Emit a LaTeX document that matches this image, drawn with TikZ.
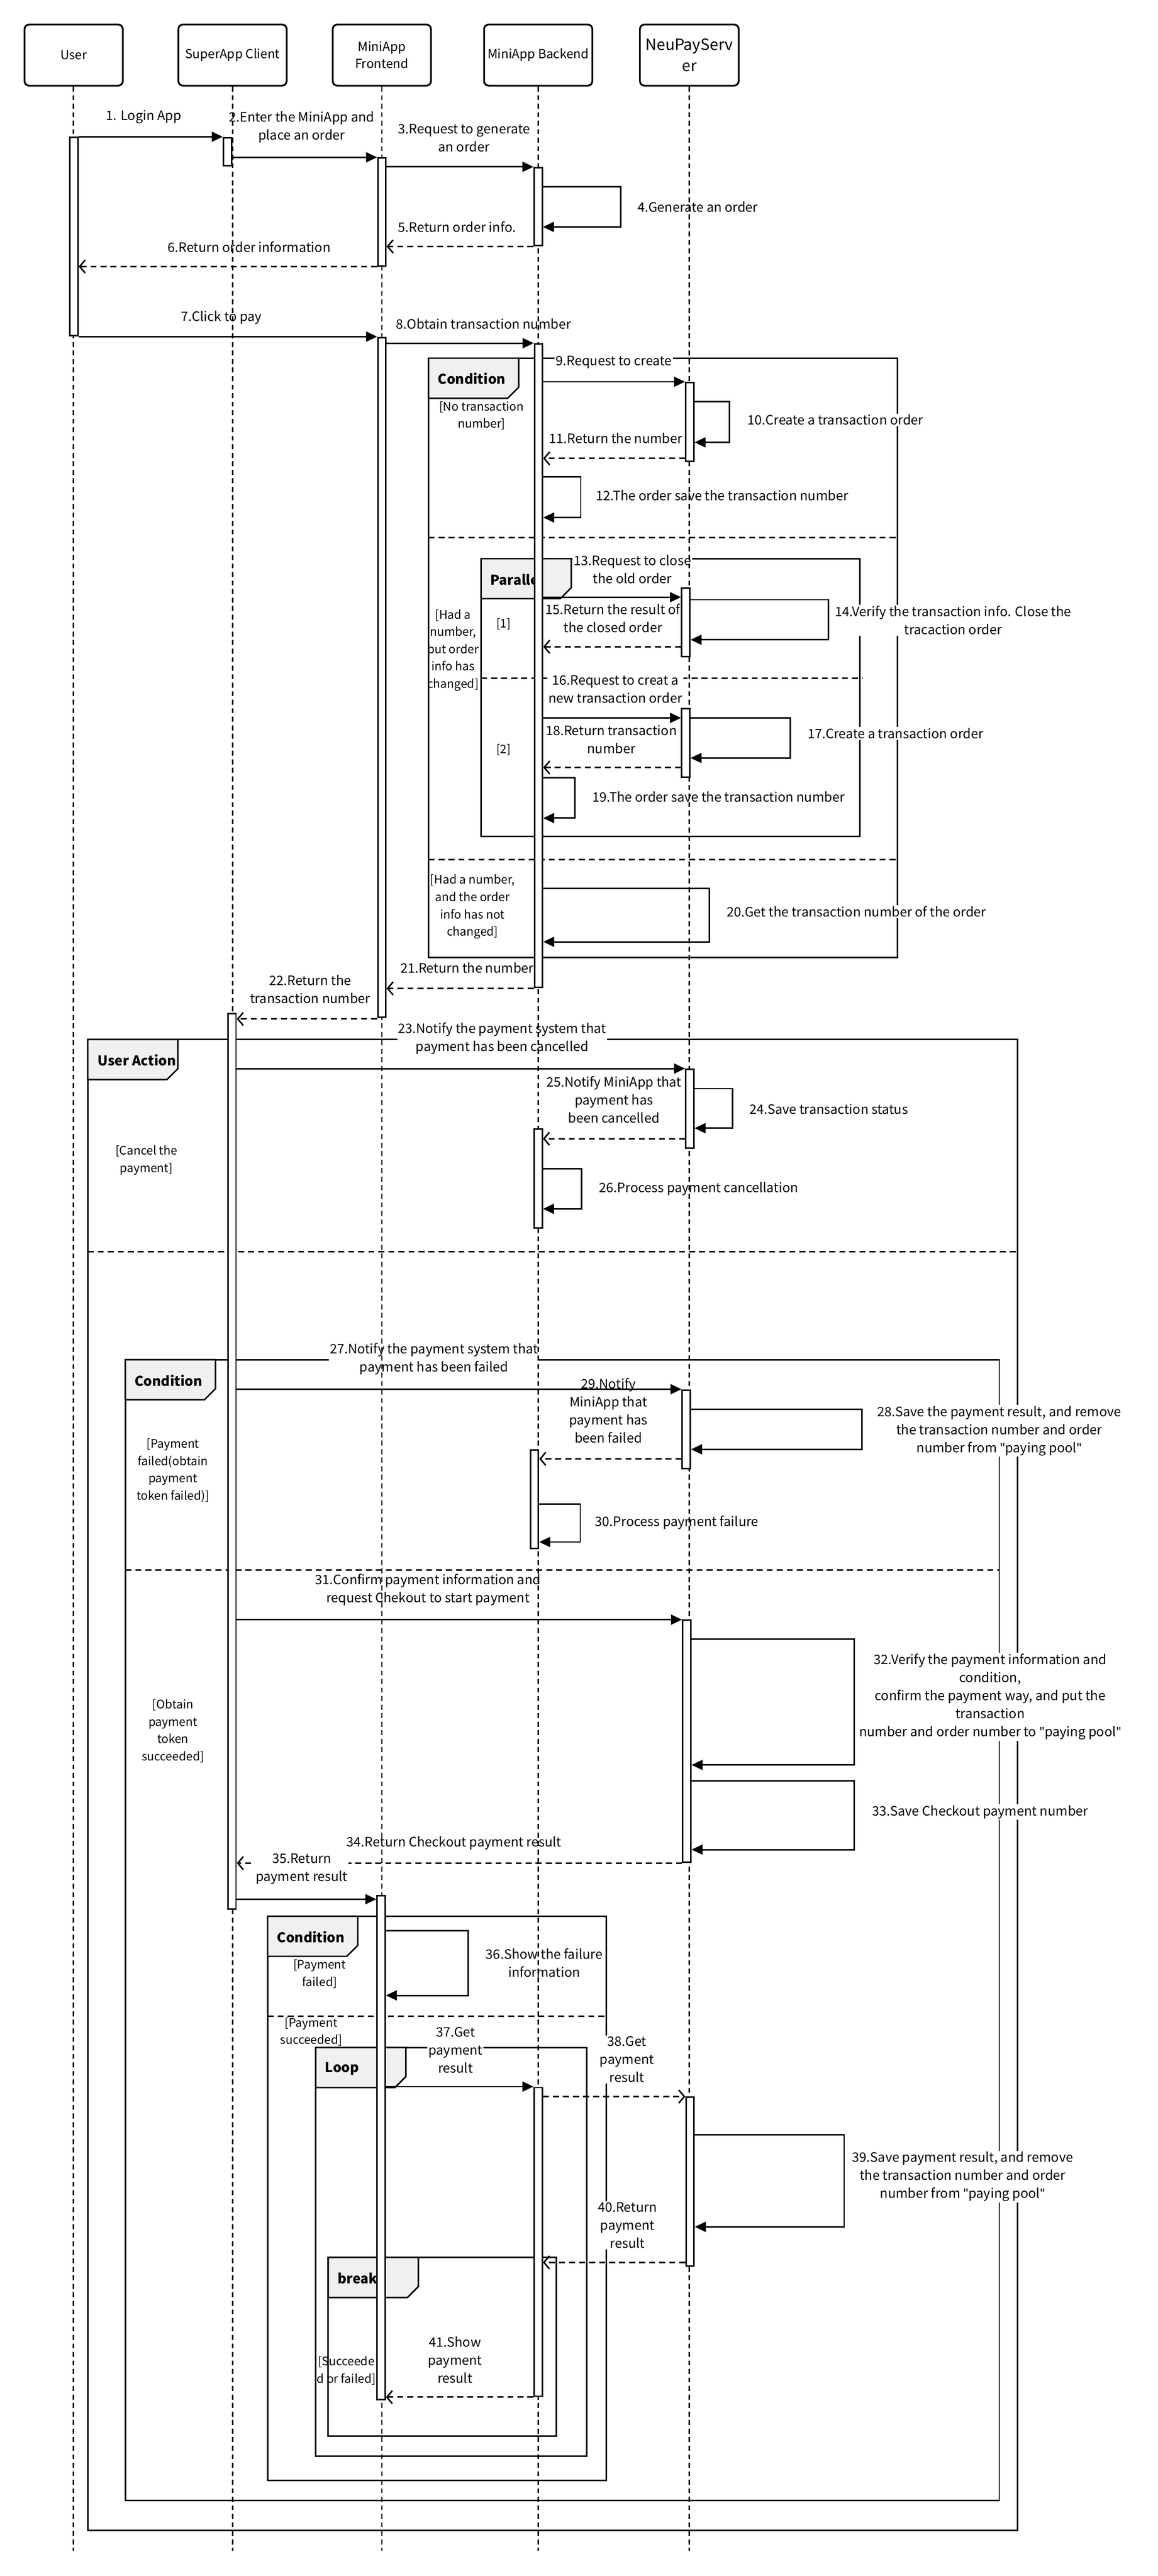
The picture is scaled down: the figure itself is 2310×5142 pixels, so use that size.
\documentclass[tikz,border=0pt]{standalone}
\usepackage{fontspec}
\setmainfont{Noto Sans CJK SC}
\newfontfamily\quotefont{Noto Sans}
\usetikzlibrary{arrows.meta}
\definecolor{tabgray}{HTML}{EFF0F2}
\newcommand{\qt}{{\quotefont"}}
\begin{document}
\begin{tikzpicture}[x=1pt,y=-1pt,line width=3pt,
  head/.style={draw,line width=3.5pt,rounded corners=9pt,minimum height=122pt,align=center,font=\fontsize{25}{34}\selectfont},
  life/.style={dash pattern=on 10pt off 7pt},
  bar/.style={draw,fill=white,minimum width=16pt,inner sep=0pt},
  tab/.style={draw,fill=tabgray},
  title/.style={anchor=west,font=\bfseries\fontsize{27}{34}\selectfont},
  guard/.style={align=center,font=\fontsize{23.5}{34.5}\selectfont},
  sep/.style={dash pattern=on 12pt off 8pt},
  msg/.style={align=center,fill=white,inner sep=2pt,font=\fontsize{26}{36}\selectfont},
  note/.style={msg,anchor=west},
  call/.style={-{Triangle[length=22pt,width=20pt]}},
  reply/.style={dash pattern=on 12pt off 8pt,-{Straight Barb[length=11pt,width=26pt]}}]
\useasboundingbox (0,0) rectangle (2310,5142);

\node [head,minimum width=196pt] (user) at (147,110) {User};
\node [head,minimum width=216pt] (client) at (464,110) {SuperApp Client};
\node [head,minimum width=196pt] (front) at (762,110) {MiniApp\\Frontend};
\node [head,minimum width=216pt] (back) at (1074,110) {MiniApp Backend};
\node [head,minimum width=197pt,font=\fontsize{31}{42}\selectfont] (pay) at (1375.5,110) {NeuPayServ\\er};

\draw (855,715) rectangle (1791,1911);
\draw [tab] (855,715) -- ++(180,0) -- ++(0,58) -- ++(-22,22) -- ++(-158,0) -- cycle;
\node [title] (alt1) at (869,756) {Condition};
\draw [sep] (855,1073) -- (1791,1073);
\draw [sep] (855,1716) -- (1791,1716);
\draw (960,1115) rectangle (1716,1670);
\draw [tab] (960,1115) -- ++(180,0) -- ++(0,58) -- ++(-22,22) -- ++(-158,0) -- cycle;
\node [title] (par) at (974,1157) {Paralle};
\draw [sep] (960,1354) -- (1722,1354);
\draw (175,2075) rectangle (2031,5051);
\draw [tab] (175,2075) -- ++(180,0) -- ++(0,58) -- ++(-22,22) -- ++(-158,0) -- cycle;
\node [title] (act) at (190,2116) {User Action};
\draw [sep] (175,2498) -- (2031,2498);
\draw (250,2714) rectangle (1994,4991);
\draw [tab] (250,2714) -- ++(180,0) -- ++(0,58) -- ++(-22,22) -- ++(-158,0) -- cycle;
\node [title] (alt2) at (264,2756) {Condition};
\draw [sep] (250,3134) -- (1994,3134);
\draw (534,3825) rectangle (1210,4951);
\draw [tab] (534,3825) -- ++(180,0) -- ++(0,58) -- ++(-22,22) -- ++(-158,0) -- cycle;
\node [title] (alt3) at (548,3866) {Condition};
\draw [sep] (534,4025) -- (1210,4025);
\draw (630,4087) rectangle (1171,4903);
\draw [tab] (630,4087) -- ++(180,0) -- ++(0,58) -- ++(-22,22) -- ++(-158,0) -- cycle;
\node [title] (loop) at (644,4129) {Loop};
\draw (655,4506) rectangle (1110,4863);
\draw [tab] (655,4506) -- ++(180,0) -- ++(0,58) -- ++(-22,22) -- ++(-158,0) -- cycle;
\node [title] (brk) at (669,4548) {break};

\node [guard] (g1) at (961,830) {[No transaction\\number]};
\node [guard] (g2) at (904,1298) {[Had a\\number,\\but order\\info has\\changed]};
\node [guard] (g3) at (1005,1246) {[1]};
\node [guard] (g4) at (1005,1497) {[2]};
\node [guard] (g5) at (943,1810) {[Had a number,\\and the order\\info has not\\changed]};
\node [guard] (g6) at (292,2316) {[Cancel the\\payment]};
\node [guard] (g7) at (345,2935) {[Payment\\failed(obtain\\payment\\token failed)]};
\node [guard] (g8) at (345,3455) {[Obtain\\payment\\token\\succeeded]};
\node [guard] (g9) at (638,3940) {[Payment\\failed]};
\node [guard] (g10) at (621,4056) {[Payment\\succeeded]};
\node [guard] (g11) at (691,4732) {[Succeede\\d or failed]};

\coordinate (c34) at (1361,3719);
\coordinate (t34) at (472.5,3719);
\draw [reply] (c34) -- (t34);

\node [msg] (m1) at (287,233) {1. Login App};
\node [msg] (m2) at (602,254) {2.Enter the MiniApp and\\place an order};
\node [msg] (m3) at (926,275) {3.Request to generate\\an order};
\node [note] (m4) at (1269,413) {4.Generate an order};
\node [msg] (m5) at (912,453) {5.Return order info.};
\node [msg] (m6) at (497,493) {6.Return order information};
\node [msg] (m7) at (442,634) {7.Click to pay};
\node [msg] (m8) at (965,646) {8.Obtain transaction number};
\node [msg] (m9) at (1225,723) {9.Request to create};
\node [note] (m10) at (1488,838) {10.Create a transaction order};
\node [msg] (m11) at (1229,875) {11.Return the number};
\node [note] (m12) at (1186,989) {12.The order save the transaction number};
\node [msg] (m13) at (1262,1136) {13.Request to close\\the old order};
\node [msg] (m14) at (1902,1238) {14.Verify the transaction info. Close the\\tracaction order};
\node [msg] (m15) at (1223,1234) {15.Return the result of\\the closed order};
\node [msg] (m16) at (1228,1376) {16.Request to creat a\\new transaction order};
\node [note] (m17) at (1608,1464) {17.Create a transaction order};
\node [msg] (m18) at (1220,1476) {18.Return transaction\\number};
\node [note] (m19) at (1179,1591) {19.The order save the transaction number};
\node [note] (m20) at (1447,1820) {20.Get the transaction number of the order};
\node [msg] (m21) at (932,1932) {21.Return the number};
\node [msg] (m22) at (619,1975) {22.Return the\\transaction number};
\node [msg] (m23) at (1002,2073) {23.Notify the payment system that\\payment has been cancelled};
\node [note] (m24) at (1492,2214) {24.Save transaction status};
\node [msg] (m25) at (1225,2195) {25.Notify MiniApp that\\payment has\\been cancelled};
\node [note] (m26) at (1192,2373) {26.Process payment cancellation};
\node [msg] (m27) at (866,2713) {27.Notify the payment system that\\payment has been failed};
\node [msg] (m28) at (1994,2856) {28.Save the payment result, and remove\\the transaction number and order\\number from \qt paying pool\qt};
\node [msg] (m29) at (1214,2816) {29.Notify\\MiniApp that\\payment has\\been failed};
\node [note] (m30) at (1184,3039) {30.Process payment failure};
\node [msg] (m31) at (854,3173) {31.Confirm payment information and\\request Chekout to start payment};
\node [msg] (m32) at (1976,3387) {32.Verify the payment information and\\condition,\\confirm the payment way, and put the\\transaction\\number and order number to \qt paying pool\qt};
\node [note] (m33) at (1737,3617) {33.Save Checkout payment number};
\node [msg] (m34) at (906,3679) {34.Return Checkout payment result};
\node [msg] (m35) at (602,3731) {35.Return\\payment result};
\node [msg] (m36) at (1086,3918) {36.Show the failure\\information};
\node [msg] (m37) at (909,4092) {37.Get\\payment\\result};
\node [msg] (m38) at (1251,4111) {38.Get\\payment\\result};
\node [msg] (m39) at (1921,4345) {39.Save payment result, and remove\\the transaction number and order\\number from \qt paying pool\qt};
\node [msg] (m40) at (1252,4442) {40.Return\\payment\\result};
\node [msg] (m41) at (908,4711) {41.Show\\payment\\result};

\draw [life] (user.south) -- (user.south |- 0,5092);
\draw [life] (client.south) -- (client.south |- 0,5092);
\draw [life] (front.south) -- (front.south |- 0,5092);
\draw [life] (back.south) -- (back.south |- 0,5092);
\draw [life] (pay.south) -- (pay.south |- 0,5092);

\node [bar,minimum height=396pt] (u1) at (147.5,472) {};
\node [bar,minimum height=56pt] (s1) at (454,303) {};
\node [bar,minimum height=216pt] (f1) at (762,423) {};
\node [bar,minimum height=155pt] (b1) at (1074,412.5) {};
\node [bar,minimum height=1357pt] (f2) at (762,1352.5) {};
\node [bar,minimum height=1285pt] (b2) at (1074.5,1328.5) {};
\node [bar,minimum height=157pt] (n1) at (1376.5,842.5) {};
\node [bar,minimum height=137pt] (n2) at (1368.5,1242.5) {};
\node [bar,minimum height=136pt] (n3) at (1368.5,1483) {};
\node [bar,minimum height=1788pt] (s2) at (463,2917) {};
\node [bar,minimum height=158pt] (n4) at (1376.5,2213) {};
\node [bar,minimum height=197pt] (b3) at (1074,2352.5) {};
\node [bar,minimum height=156pt] (n5) at (1369.5,2853) {};
\node [bar,minimum height=197pt] (b4) at (1066.5,2992.5) {};
\node [bar,minimum height=483pt] (n6) at (1370.5,3475.5) {};
\node [bar,minimum height=1006pt] (f3) at (760.5,4287) {};
\node [bar,minimum height=616pt] (b5) at (1074,4475) {};
\node [bar,minimum height=337pt] (n7) at (1377,4354.5) {};

\draw [call] (u1.east |- 0,273) -- (s1.west |- 0,273);
\draw [call] (s1.east |- 0,314) -- (f1.west |- 0,314);
\draw [call] (f1.east |- 0,333) -- (b1.west |- 0,333);
\draw [call] (b1.east |- 0,373) -- ++(155,0) |- (b1.east |- 0,453);
\draw [reply] (b1.west |- 0,492) -- (f1.east |- 0,492);
\draw [reply] (f1.west |- 0,532) -- (u1.east |- 0,532);
\draw [call] (u1.east |- 0,672) -- (f2.west |- 0,672);
\draw [call] (f2.east |- 0,685) -- (b2.west |- 0,685);
\draw [call] (b2.east |- 0,762) -- (n1.west |- 0,762);
\draw [call] (n1.east |- 0,802) -- ++(70,0) |- (n1.east |- 0,883);
\draw [reply] (n1.west |- 0,915) -- (b2.east |- 0,915);
\draw [call] (b2.east |- 0,952) -- ++(75,0) |- (b2.east |- 0,1033);
\draw [call] (b2.east |- 0,1192) -- (n2.west |- 0,1192);
\draw [call] (n2.east |- 0,1197) -- ++(275,0) |- (n2.east |- 0,1277);
\draw [reply] (n2.west |- 0,1291) -- (b2.east |- 0,1291);
\draw [call] (b2.east |- 0,1433) -- (n3.west |- 0,1433);
\draw [call] (n3.east |- 0,1433) -- ++(199,0) |- (n3.east |- 0,1513);
\draw [reply] (n3.west |- 0,1532) -- (b2.east |- 0,1532);
\draw [call] (b2.east |- 0,1552) -- ++(63,0) |- (b2.east |- 0,1633);
\draw [call] (b2.east |- 0,1773) -- ++(332,0) |- (b2.east |- 0,1880);
\draw [reply] (b2.west |- 0,1973) -- (f2.east |- 0,1973);
\draw [reply] (f2.west |- 0,2034) -- (s2.east |- 0,2034);
\draw [call] (s2.east |- 0,2133) -- (n4.west |- 0,2133);
\draw [call] (n4.east |- 0,2173) -- ++(76,0) |- (n4.east |- 0,2252);
\draw [reply] (n4.west |- 0,2273) -- (b3.east |- 0,2273);
\draw [call] (b3.east |- 0,2333) -- ++(77,0) |- (b3.east |- 0,2413);
\draw [call] (s2.east |- 0,2773) -- (n5.west |- 0,2773);
\draw [call] (n5.east |- 0,2813) -- ++(341,0) |- (n5.east |- 0,2893);
\draw [reply] (n5.west |- 0,2912) -- (b4.east |- 0,2912);
\draw [call] (b4.east |- 0,3002) -- ++(82,0) |- (b4.east |- 0,3078);
\draw [call] (s2.east |- 0,3233) -- (n6.west |- 0,3233);
\draw [call] (n6.east |- 0,3272) -- ++(325,0) |- (n6.east |- 0,3523);
\draw [call] (n6.east |- 0,3555) -- ++(325,0) |- (n6.east |- 0,3692);
\draw [call] (s2.east |- 0,3791) -- (f3.west |- 0,3791);
\draw [call] (f3.east |- 0,3854) -- ++(164,0) |- (f3.east |- 0,3983);
\draw [call] (f3.east |- 0,4165) -- (b5.west |- 0,4165);
\draw [reply] (b5.east |- 0,4185) -- (n7.west |- 0,4185);
\draw [call] (n7.east |- 0,4261) -- ++(298,0) |- (n7.east |- 0,4445);
\draw [reply] (n7.west |- 0,4516) -- (b5.east |- 0,4516);
\draw [reply] (b5.west |- 0,4785) -- (f3.east |- 0,4785);
\end{tikzpicture}
\end{document}
